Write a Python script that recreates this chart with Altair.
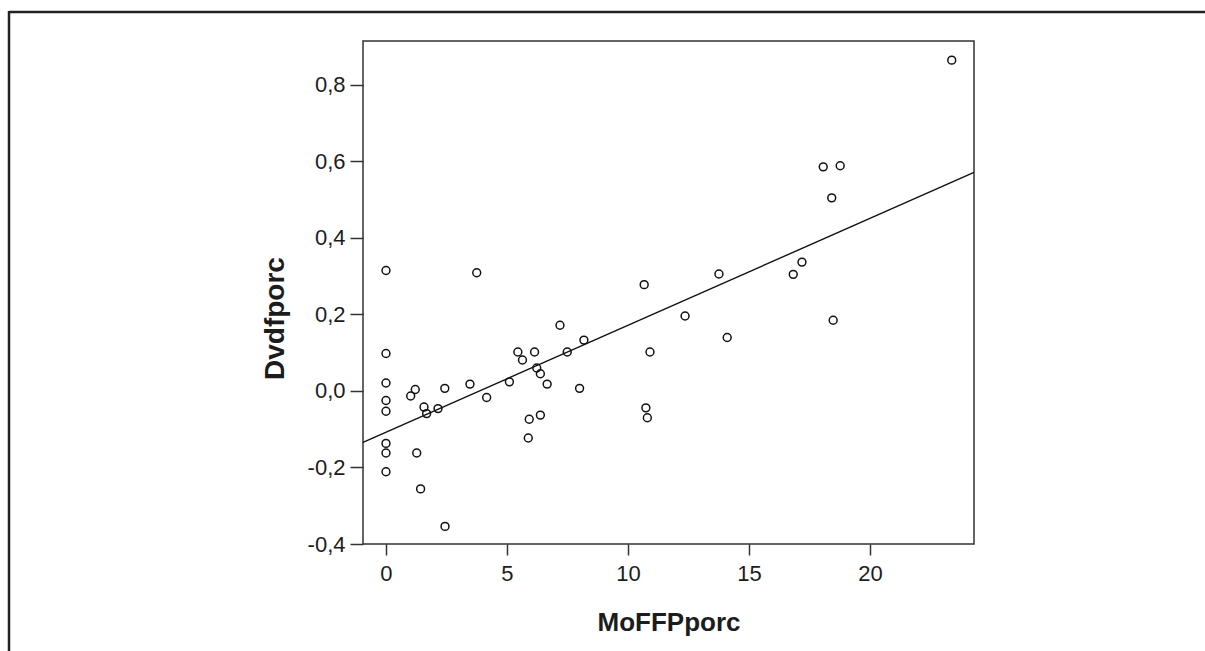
import altair as alt
import pandas as pd

# Data
mofffp = [23.38, 18.07, 18.77, 18.42, 17.19, 16.83, 18.48, 13.76, 14.10, 12.36,
          10.67, 10.91, 10.74, 10.80,
          0.0, 0.0, 0.0, 0.0, 0.0, 0.0, 0.0, 0.0,
          3.75, 1.27, 1.43, 2.44, 1.21, 1.02, 1.57, 1.68, 2.15, 2.43, 3.47, 4.16,
          5.10, 5.45, 6.14, 5.64, 7.19, 7.49, 8.18, 6.23, 6.38, 6.66, 8.00,
          5.92, 6.38, 5.88]
dvdf = [0.865, 0.586, 0.589, 0.505, 0.337, 0.305, 0.185, 0.306, 0.140, 0.196,
        0.278, 0.102, -0.044, -0.070,
        0.315, 0.098, 0.021, -0.025, -0.053, -0.137, -0.162, -0.211,
        0.309, -0.162, -0.256, -0.354, 0.004, -0.013, -0.042, -0.059, -0.046, 0.007, 0.018, -0.017,
        0.024, 0.102, 0.102, 0.081, 0.172, 0.102, 0.133, 0.060, 0.045, 0.018, 0.007,
        -0.074, -0.063, -0.123]

x_ticks = [0, 5, 10, 15, 20]
y_ticks = [-0.4, -0.2, 0.0, 0.2, 0.4, 0.6, 0.8]
x_domain = [-0.95, 24.3]
y_domain = [-0.4, 0.915]

df = pd.DataFrame({"MoFFPporc": mofffp, "Dvdfporc": dvdf})

FONT = "Liberation Sans"
INK = "#1c1c1c"

xscale = alt.Scale(domain=x_domain, nice=False, zero=False)
yscale = alt.Scale(domain=y_domain, nice=False, zero=False)

xaxis = alt.Axis(
    values=x_ticks, title="MoFFPporc", grid=False, domain=False,
    tickSize=11, tickColor="#333333", tickWidth=1.5,
    labelFont=FONT, labelFontSize=22, labelColor=INK, labelPadding=8,
    labelExpr="format(datum.value, 'd')",
    titleFont=FONT, titleFontSize=26, titleFontWeight="bold", titleColor=INK,
    titleY=86, titleBaseline="alphabetic",
)
yaxis = alt.Axis(
    values=y_ticks, title="Dvdfporc", grid=False, domain=False,
    tickSize=13, tickColor="#333333", tickWidth=1.5,
    labelFont=FONT, labelFontSize=22, labelColor=INK, labelPadding=5,
    labelExpr="replace(replace(format(datum.value, '.1f'), '.', ','), '\u2212', '-')",
    titleFont=FONT, titleFontSize=28, titleFontWeight="bold", titleColor=INK,
    titleX=-80, titleY=277, titleAngle=-90, titleAlign="center",
    titleBaseline="alphabetic",
)

base = alt.Chart(df)

points = base.mark_point(
    shape="circle", filled=False, color="#111111", size=62, strokeWidth=1.5, opacity=1
).encode(
    x=alt.X("MoFFPporc:Q", scale=xscale, axis=xaxis),
    y=alt.Y("Dvdfporc:Q", scale=yscale, axis=yaxis),
)

fit = base.transform_regression(
    "MoFFPporc", "Dvdfporc", extent=x_domain
).mark_line(color="#111111", strokeWidth=1.4).encode(
    x=alt.X("MoFFPporc:Q", scale=xscale),
    y=alt.Y("Dvdfporc:Q", scale=yscale),
)

frame_src = pd.DataFrame({"k": [0]})
top_rule = alt.Chart(frame_src).mark_rule(color="#222222", strokeWidth=2.5, clip=False).encode(
    x=alt.value(-354), x2=alt.value(850), y=alt.value(-29)
)
left_rule = alt.Chart(frame_src).mark_rule(color="#222222", strokeWidth=2.5, clip=False).encode(
    x=alt.value(-354), y=alt.value(-30), y2=alt.value(640)
)

chart = alt.layer(points, fit, top_rule, left_rule).properties(
    width=611,
    height=503,
    autosize=alt.AutoSizeParams(type="none"),
    padding={"left": 363, "top": 41, "right": 231, "bottom": 107},
    background="white",
).configure_view(
    stroke="#333333", strokeWidth=1.5
)

chart.save("out.html", embed_options={"renderer": "svg", "actions": False})
